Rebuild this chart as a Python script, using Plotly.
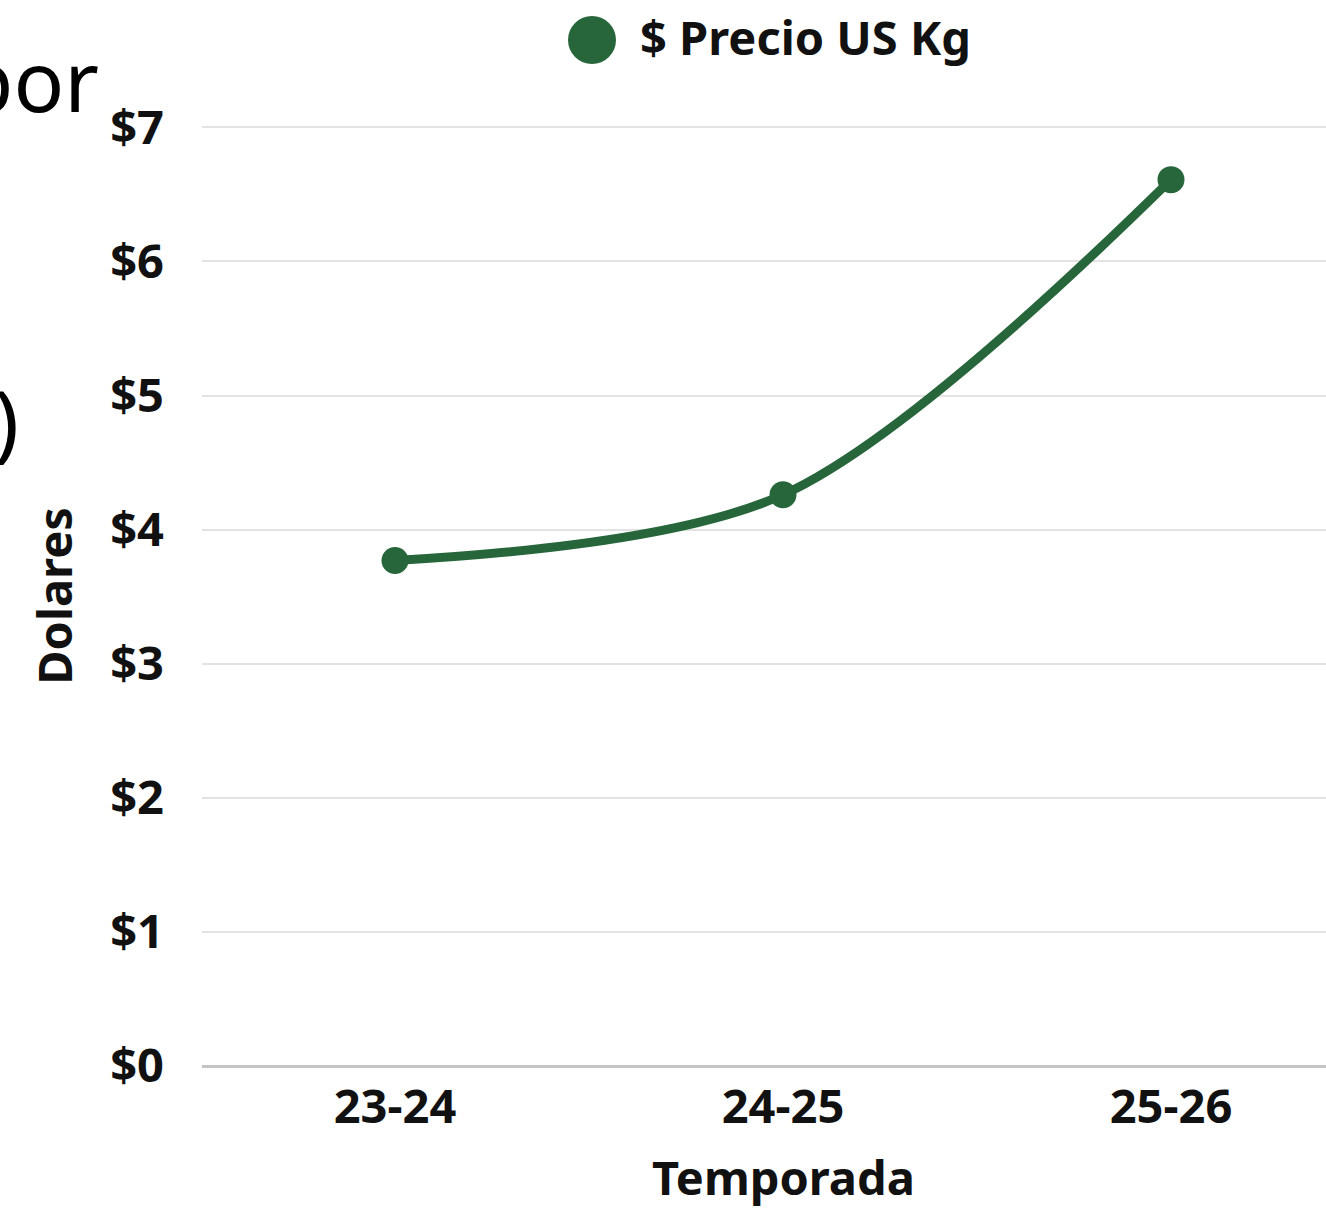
import plotly.graph_objects as go

categories = ["23-24", "24-25", "25-26"]
precio = [3.77, 4.26, 6.61]
y_ticks = [0, 1, 2, 3, 4, 5, 6, 7]
y_labels = ["$0", "$1", "$2", "$3", "$4", "$5", "$6", "$7"]
series_name = "$ Precio US Kg"
x_title = "Temporada"
y_title = "Dolares"

GREEN = "#27663a"
FONT = "Noto Sans"

fig = go.Figure()
fig.add_trace(go.Scatter(
    x=[0, 1, 2], y=precio, mode="lines+markers", name=series_name,
    line=dict(color=GREEN, width=9, shape="spline", smoothing=0.9),
    marker=dict(color=GREEN, size=27),
    showlegend=False, cliponaxis=False,
))

W, H = 1326, 1211
L, R, T, B = 202, 0, 126, 145
pw = W - L - R

def px_x(p):
    return (p - L) / pw

def px_y(p):
    return 1 - (p - T) / (H - T - B)

fig.update_layout(
    width=W, height=H,
    margin=dict(l=L, r=R, t=T, b=B),
    paper_bgcolor="white", plot_bgcolor="white",
    font=dict(family=FONT, color="#111111"),
    showlegend=False,
    xaxis=dict(
        tickmode="array", tickvals=[0, 1, 2], ticktext=categories,
        range=[-0.4974, 2.3995], showgrid=False, zeroline=False,
        showline=False,
        tickfont=dict(family=FONT, size=47, weight="bold"),
        ticklabelstandoff=9,
    ),
    yaxis=dict(
        range=[0, 7.01], tickvals=y_ticks, ticktext=y_labels,
        showgrid=True, gridcolor="#e3e3e3", gridwidth=2,
        zeroline=True, zerolinecolor="#c4c4c4", zerolinewidth=3,
        tickfont=dict(family=FONT, size=47, weight="bold"),
        ticklabelstandoff=37,
        title=dict(text="<b>" + y_title + "</b>", font=dict(family=FONT, size=47), standoff=22),
    ),
)

# x axis title (centered under the full category span)
fig.add_annotation(text="<b>" + x_title + "</b>", xref="paper", yref="paper",
                   x=px_x(783), y=px_y(1211), xanchor="center", yanchor="bottom",
                   showarrow=False, font=dict(family=FONT, size=47, color="#111111"))

# legend drawn manually (large dot + bold label)
fig.add_shape(type="circle", xref="paper", yref="paper",
              xsizemode="pixel", ysizemode="pixel",
              xanchor=px_x(592), yanchor=px_y(40),
              x0=-24, x1=24, y0=-24, y1=24,
              fillcolor=GREEN, line=dict(width=0))
fig.add_annotation(text="<b>" + series_name + "</b>", xref="paper", yref="paper",
                   x=px_x(638), y=px_y(37), xanchor="left", yanchor="middle",
                   showarrow=False, font=dict(family=FONT, size=47, color="#111111"))

# partially visible title text at the left edge
fig.add_annotation(text="Precio por", xref="paper", yref="paper",
                   x=px_x(101), y=px_y(80), xanchor="right", yanchor="middle",
                   showarrow=False, font=dict(family=FONT, size=84, color="#000000"))
fig.add_annotation(text="(US$)", xref="paper", yref="paper",
                   x=px_x(21), y=px_y(420), xanchor="right", yanchor="middle",
                   showarrow=False, font=dict(family=FONT, size=84, color="#000000"))

fig.write_html("out.html")
